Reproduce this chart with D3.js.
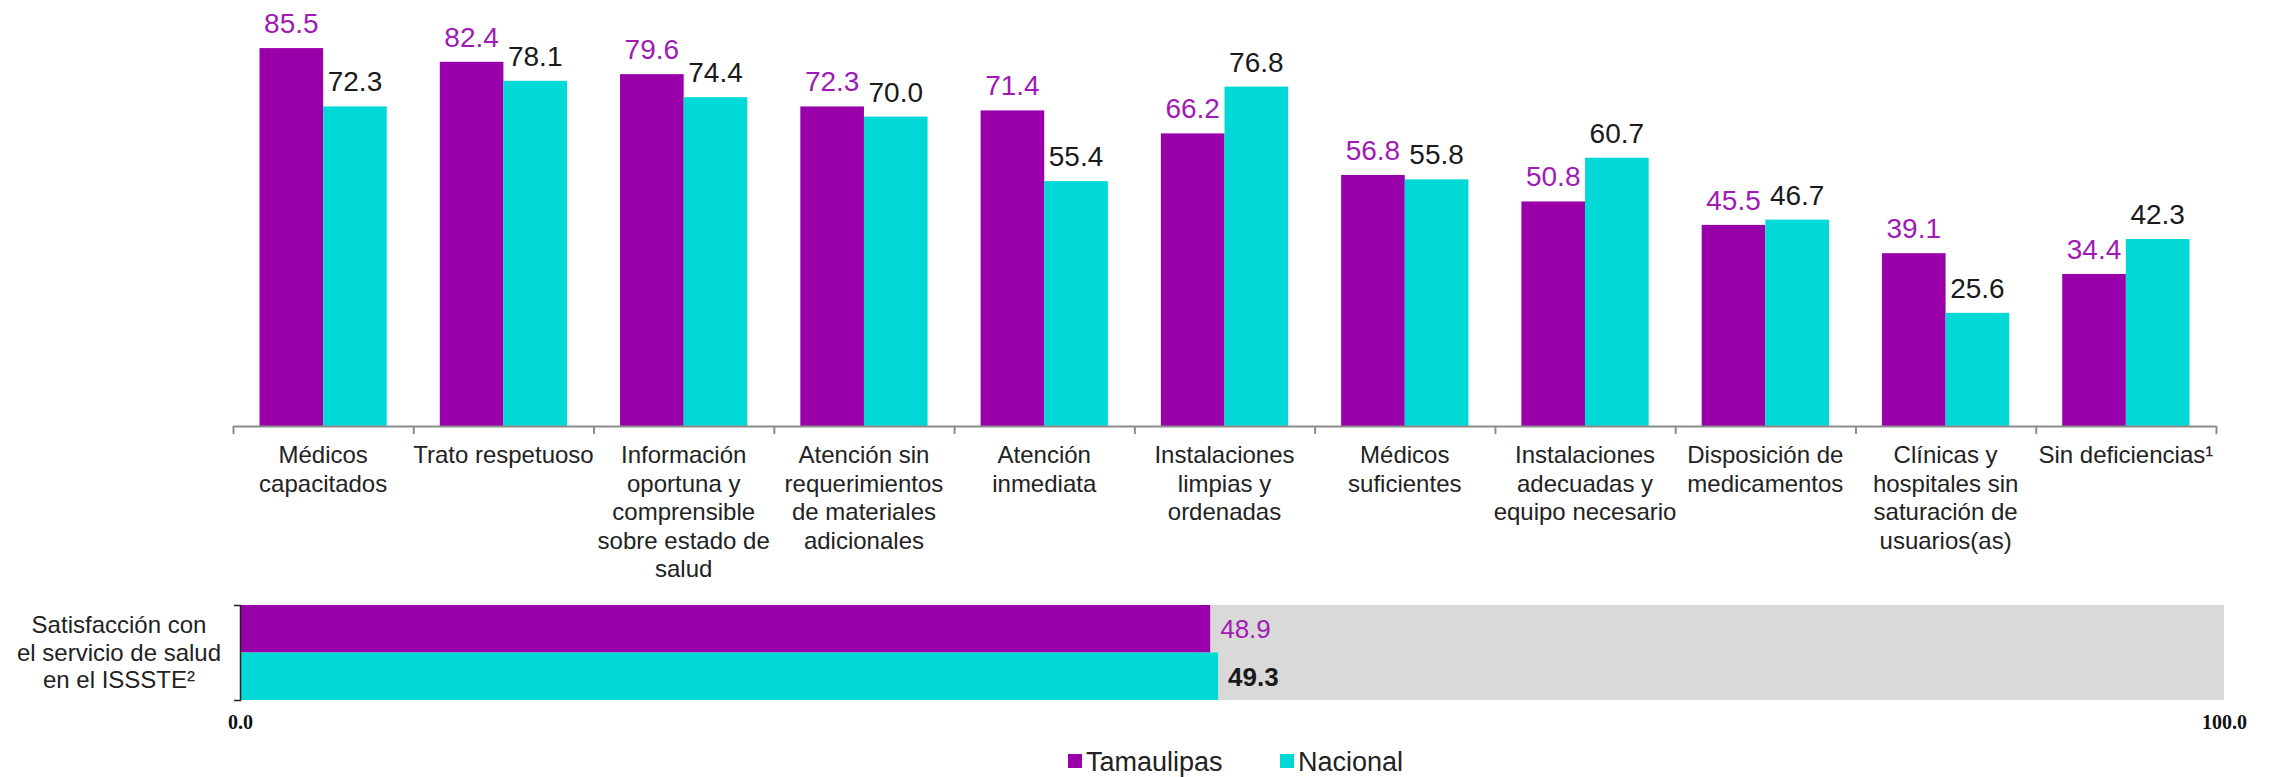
<!DOCTYPE html>
<html lang="es">
  <head>
    <meta charset="utf-8">
    <title>Deficiencias en el servicio de salud - Tamaulipas</title>
    <style media="screen">
      body {
        margin: 0;
        background: #ffffff;
      }
      svg {
        display: block;
        font-family: "Liberation Sans", Arial, sans-serif;
      }
    </style>
  </head>
  <body>
    <script src="https://cdn.jsdelivr.net/npm/d3@7"></script>
    <script type="text/javascript">

      // data
      const categories = [
        "Médicos\ncapacitados",
        "Trato respetuoso",
        "Información\noportuna y\ncomprensible\nsobre estado de\nsalud",
        "Atención sin\nrequerimientos\nde materiales\nadicionales",
        "Atención\ninmediata",
        "Instalaciones\nlimpias y\nordenadas",
        "Médicos\nsuficientes",
        "Instalaciones\nadecuadas y\nequipo necesario",
        "Disposición de\nmedicamentos",
        "Clínicas y\nhospitales sin\nsaturación de\nusuarios(as)",
        "Sin deficiencias¹"
      ]
      const series = ["Tamaulipas", "Nacional"]
      const tamaulipas = [85.5, 82.4, 79.6, 72.3, 71.4, 66.2, 56.8, 50.8, 45.5, 39.1, 34.4]
      const nacional = [72.3, 78.1, 74.4, 70.0, 55.4, 76.8, 55.8, 60.7, 46.7, 25.6, 42.3]

      const satLabel = "Satisfacción con\nel servicio de salud\nen el ISSSTE²"
      const satisfaccion = [48.9, 49.3]
      const satTicks = [0, 100]

      const colors = { Tamaulipas: "#9900AA", Nacional: "#00D9D6" }
      const labelColors = { Tamaulipas: "#A01BB4", Nacional: "#1a1a1a" }

      const w = 2282
      const h = 777

      const svg = d3.select("body")
        .append("svg")
        .attr("width", w)
        .attr("height", h)

      // ---------- top grouped bars ----------
      const upper = { left: 233, right: 2216, base: 426 }

      const xScale = d3.scaleBand()
        .domain(d3.range(categories.length))
        .range([upper.left, upper.right])
        .paddingInner(0.294)
        .paddingOuter(0.147)

      const xSub = d3.scaleBand()
        .domain(series)
        .range([0, xScale.bandwidth()])

      const yScale = d3.scaleLinear()
        .domain([0, 100])
        .range([upper.base, upper.base - 442])

      const rows = categories.map((c, i) => ({
        i: i,
        values: [
          { s: "Tamaulipas", v: tamaulipas[i] },
          { s: "Nacional", v: nacional[i] }
        ]
      }))

      const groups = svg.selectAll("g.group")
        .data(rows)
        .enter()
        .append("g")
        .attr("class", "group")
        .attr("transform", d => `translate(${xScale(d.i)}, 0)`)

      groups.selectAll("rect")
        .data(d => d.values)
        .enter()
        .append("rect")
        .attr("x", d => xSub(d.s))
        .attr("y", d => yScale(d.v))
        .attr("width", xSub.bandwidth())
        .attr("height", d => yScale(0) - yScale(d.v))
        .attr("fill", d => colors[d.s])

      groups.selectAll("text.val")
        .data(d => d.values)
        .enter()
        .append("text")
        .attr("class", "val")
        .attr("x", d => xSub(d.s) + xSub.bandwidth() / 2)
        .attr("y", d => yScale(d.v) - 15)
        .attr("text-anchor", "middle")
        .attr("font-size", "28px")
        .attr("fill", d => labelColors[d.s])
        .text(d => d3.format(".1f")(d.v))

      // axis line with ticks between categories
      const boundary = d3.scaleLinear()
        .domain([0, categories.length])
        .range([upper.left, upper.right])

      const xAxis = d3.axisBottom(boundary)
        .tickValues(d3.range(categories.length + 1))
        .tickFormat("")
        .tickSizeInner(8)
        .tickSizeOuter(0)

      const gx = svg.append("g")
        .attr("transform", `translate(0, ${upper.base})`)
        .call(xAxis)
      gx.selectAll("path, line").attr("stroke", "#8c8c8c").attr("stroke-width", 2)

      // category labels
      const catAxis = d3.axisBottom(xScale)
        .tickSize(0)
        .tickFormat("")
      const gc = svg.append("g")
        .attr("transform", `translate(0, ${upper.base})`)
        .call(catAxis)
      gc.select(".domain").remove()
      gc.selectAll(".tick")
        .append("text")
        .attr("text-anchor", "middle")
        .attr("fill", "#222")
        .attr("font-size", "24px")
        .selectAll("tspan")
        .data(i => categories[i].split("\n"))
        .enter()
        .append("tspan")
        .attr("x", 0)
        .attr("y", (d, k) => 37 + k * 28.5)
        .text(d => d)

      // ---------- bottom satisfaction bars ----------
      const bot = { left: 240, right: 2224, top: 605, bottom: 700 }

      const xSat = d3.scaleLinear()
        .domain([0, 100])
        .range([bot.left, bot.right])

      const yCat = d3.scaleBand()
        .domain([satLabel])
        .range([bot.top, bot.bottom])

      const ySer = d3.scaleBand()
        .domain(series)
        .range([0, yCat.bandwidth()])

      const sat = svg.append("g")
        .attr("transform", `translate(0, ${yCat(satLabel)})`)

      // grey 100% background
      sat.append("rect")
        .attr("x", xSat(0))
        .attr("y", 0)
        .attr("width", xSat(100) - xSat(0))
        .attr("height", yCat.bandwidth())
        .attr("fill", "#D9D9D9")

      const satRows = series.map((s, i) => ({ s: s, v: satisfaccion[i] }))

      sat.selectAll("rect.sat")
        .data(satRows)
        .enter()
        .append("rect")
        .attr("class", "sat")
        .attr("x", xSat(0))
        .attr("y", d => ySer(d.s))
        .attr("width", d => xSat(d.v) - xSat(0))
        .attr("height", ySer.bandwidth())
        .attr("fill", d => colors[d.s])

      sat.selectAll("text.sat")
        .data(satRows)
        .enter()
        .append("text")
        .attr("class", "sat")
        .attr("x", d => xSat(d.v) + 10)
        .attr("y", d => ySer(d.s) + ySer.bandwidth() / 2)
        .attr("dy", "0.36em")
        .attr("font-size", "26px")
        .attr("font-weight", d => d.s === "Nacional" ? "bold" : "normal")
        .attr("fill", d => labelColors[d.s])
        .text(d => d3.format(".1f")(d.v))

      // left bracket axis + label
      const yAxis = d3.axisLeft(yCat)
        .tickSizeInner(0)
        .tickSizeOuter(6)
        .tickFormat("")
      const gy = svg.append("g")
        .attr("transform", `translate(${bot.left}, 0)`)
        .call(yAxis)
      gy.select(".domain").attr("stroke", "#222").attr("stroke-width", 1.5)

      svg.append("text")
        .attr("text-anchor", "middle")
        .attr("font-size", "24px")
        .attr("fill", "#222")
        .selectAll("tspan")
        .data(satLabel.split("\n"))
        .enter()
        .append("tspan")
        .attr("x", 119)
        .attr("y", (d, k) => yCat(satLabel) + yCat.bandwidth() / 2 + 8 + (k - 1) * 27.5)
        .text(d => d)

      // 0.0 / 100.0
      const satAxis = d3.axisBottom(xSat)
        .tickValues(satTicks)
        .tickFormat(d3.format(".1f"))
        .tickSize(0)
      const gs = svg.append("g")
        .attr("transform", `translate(0, ${bot.bottom + 12})`)
        .call(satAxis)
      gs.select(".domain").remove()
      gs.selectAll("text")
        .attr("font-family", "'Liberation Serif', 'Times New Roman', serif")
        .attr("font-weight", "bold")
        .attr("font-size", "20px")
        .attr("fill", "#111")

      // ---------- legend ----------
      const legendX = d3.scaleOrdinal()
        .domain(series)
        .range([1068, 1280])

      const legend = svg.selectAll("g.legend")
        .data(series)
        .enter()
        .append("g")
        .attr("class", "legend")
        .attr("transform", d => `translate(${legendX(d)}, 761)`)

      legend.append("rect")
        .attr("x", 0)
        .attr("y", -7)
        .attr("width", 14)
        .attr("height", 14)
        .attr("fill", d => colors[d])

      legend.append("text")
        .attr("x", 18)
        .attr("dy", "0.36em")
        .attr("font-size", "27px")
        .attr("fill", "#222")
        .text(d => d)

    </script>
  </body>
</html>
